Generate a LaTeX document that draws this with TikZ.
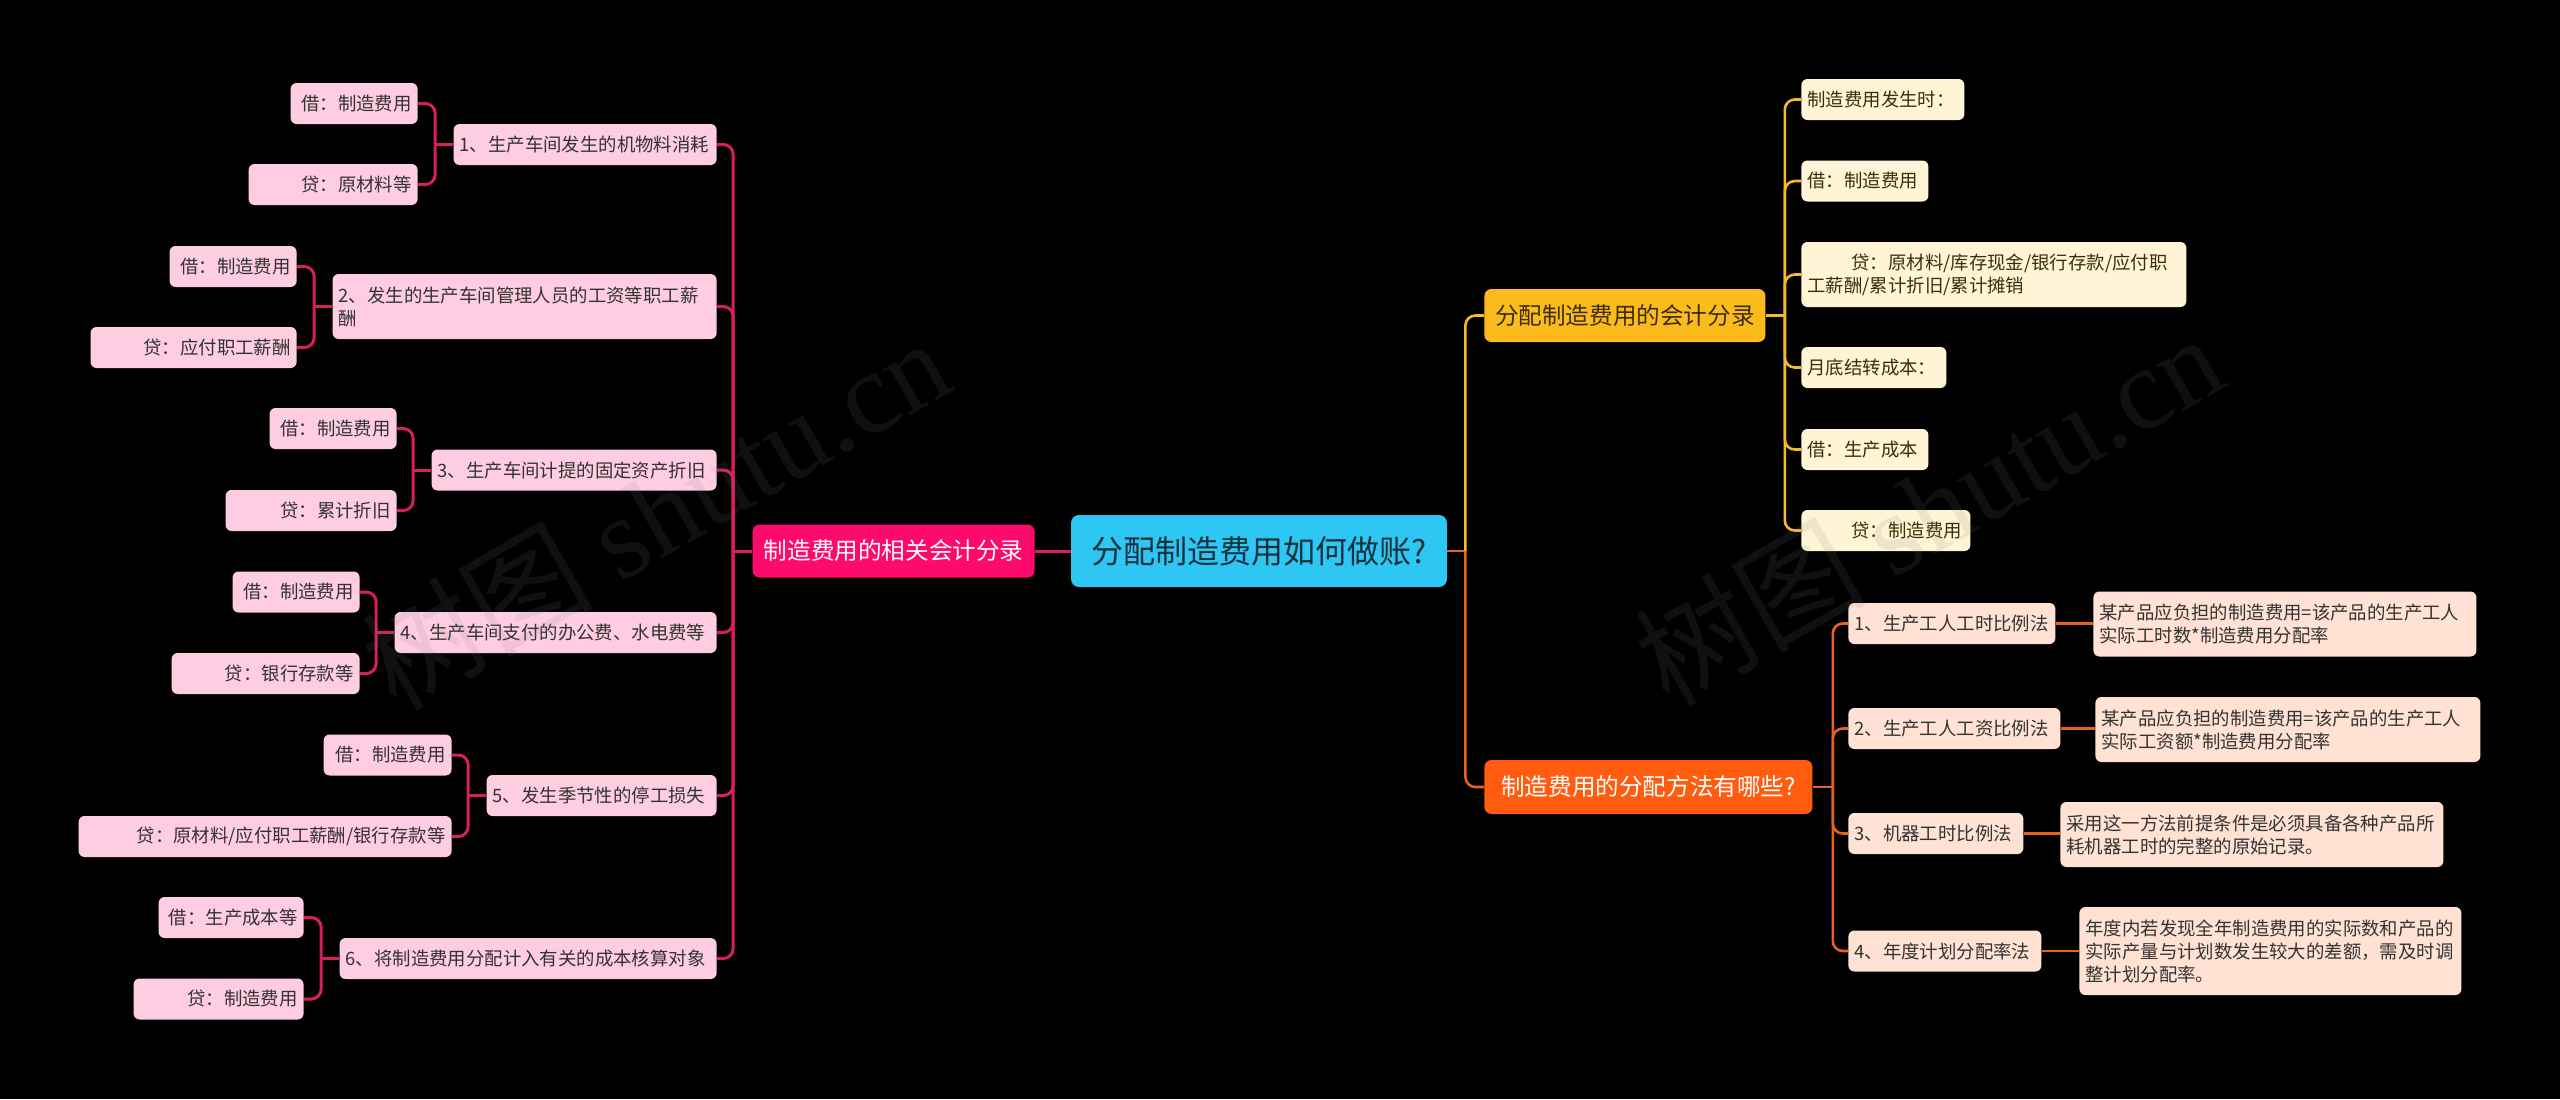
\documentclass[tikz,border=0pt]{standalone}
\usepackage{fontspec}
\setmainfont{Noto Sans CJK SC}
\newfontfamily\wmlatin{Liberation Serif}
\definecolor{pinkmain}{HTML}{FC0A6C}
\definecolor{pinkline}{HTML}{D81E62}
\definecolor{pinkleaf}{HTML}{FFCDE2}
\definecolor{cyanroot}{HTML}{2EC6F3}
\definecolor{roottext}{HTML}{17323F}
\definecolor{goldmain}{HTML}{FBBB1B}
\definecolor{goldline}{HTML}{F3BA2C}
\definecolor{goldleaf}{HTML}{FFF4D6}
\definecolor{orgmain}{HTML}{FF5C10}
\definecolor{orgline}{HTML}{E6631E}
\definecolor{orgleaf}{HTML}{FFE2D3}
\definecolor{leaftext}{HTML}{333333}
\definecolor{goldtext}{HTML}{3D2E06}
\begin{document}
\begin{tikzpicture}[x=0.5pt,y=-0.5pt,
 box/.style={rounded corners=3pt, inner xsep=3pt, inner ysep=0pt, minimum height=20.5pt, font=\fontsize{9.2}{11.5}\selectfont, text=leaftext},
 pleaf/.style={box, fill=pinkleaf, anchor=east, align=right},
 pitem/.style={box, fill=pinkleaf, anchor=east, align=left},
 gleaf/.style={box, fill=goldleaf, anchor=west, align=left, text=goldtext},
 oleaf/.style={box, fill=orgleaf, anchor=west, align=left},
 mainbox/.style={rounded corners=3.5pt, inner sep=0pt, minimum height=26.5pt, font=\fontsize{11.8}{14}\selectfont},
 rootbox/.style={rounded corners=4pt, inner sep=0pt, fill=cyanroot, text=roottext, minimum width=188pt, minimum height=36pt, font=\fontsize{16}{18}\selectfont},
 pline/.style={draw=pinkline, line width=1.5pt},
 gline/.style={draw=goldline, line width=1.3pt},
 oline/.style={draw=orgline, line width=1.3pt},
 rc/.style={rounded corners=5pt},
 wm/.style={text=gray, text opacity=0.13, font=\fontsize{58}{60}\selectfont, rotate=30}
]
\fill[black] (0,0) rectangle (2560,1099);
\useasboundingbox (0,0) rectangle (2560,1099);

% root and main branches
\node[rootbox] (root) at (1259,551) {分配制造费用如何做账?};
\node[mainbox, fill=pinkmain, text=white, minimum width=141pt, anchor=east] (L) at (1035,551) {制造费用的相关会计分录};
\node[mainbox, fill=goldmain, text=goldtext, minimum width=140.5pt, anchor=west] (RT) at (1484,315.5) {分配制造费用的会计分录};
\node[mainbox, fill=orgmain, text=white, minimum width=164pt, minimum height=27pt, anchor=west] (RB) at (1484,787) {制造费用的分配方法有哪些?};

% left items
\node[pitem, text width=125.5pt] (i1) at (717,144.5) {1、生产车间发生的机物料消耗};
\node[pitem, text width=186pt, minimum height=32.5pt] (i2) at (717,306.5) {2、发生的生产车间管理人员的工资等职工薪\\酬};
\node[pitem, text width=136.5pt] (i3) at (717,470) {3、生产车间计提的固定资产折旧};
\node[pitem, text width=155pt] (i4) at (717,632.5) {4、生产车间支付的办公费、水电费等};
\node[pitem, text width=109pt] (i5) at (717,795.5) {5、发生季节性的停工损失};
\node[pitem, text width=182.5pt] (i6) at (717,958.5) {6、将制造费用分配计入有关的成本核算对象};

% left leaves
\node[pleaf, text width=57.5pt] (l1a) at (418,103.5) {借：制造费用};
\node[pleaf, text width=78.5pt] (l1b) at (418,184.5) {贷：原材料等};
\node[pleaf, text width=57.5pt] (l2a) at (297,266.5) {借：制造费用};
\node[pleaf, text width=97pt] (l2b) at (297,347.5) {贷：应付职工薪酬};
\node[pleaf, text width=57.5pt] (l3a) at (397,428.5) {借：制造费用};
\node[pleaf, text width=79.5pt] (l3b) at (397,510.5) {贷：累计折旧};
\node[pleaf, text width=57.5pt] (l4a) at (360,592) {借：制造费用};
\node[pleaf, text width=88pt] (l4b) at (360,673.5) {贷：银行存款等};
\node[pleaf, text width=58pt] (l5a) at (452,755) {借：制造费用};
\node[pleaf, text width=180.5pt] (l5b) at (452,836.5) {贷：原材料/应付职工薪酬/银行存款等};
\node[pleaf, text width=66.5pt] (l6a) at (304,917.5) {借：生产成本等};
\node[pleaf, text width=79pt] (l6b) at (304,999) {贷：制造费用};

% right top leaves
\node[gleaf, text width=75.5pt] (r1) at (1801,99.5) {制造费用发生时：};
\node[gleaf, text width=57.5pt] (r2) at (1801,181) {借：制造费用};
\node[gleaf, text width=186.5pt, minimum height=32.5pt] (r3) at (1801,274.5) {\hspace*{22pt}贷：原材料/库存现金/银行存款/应付职\\工薪酬/累计折旧/累计摊销};
\node[gleaf, text width=66.5pt] (r4) at (1801,367.5) {月底结转成本：};
\node[gleaf, text width=57.5pt] (r5) at (1801,449.5) {借：生产成本};
\node[gleaf, text width=78.5pt] (r6) at (1801,530.5) {\hspace*{22pt}贷：制造费用};

% right bottom methods
\node[oleaf, text width=97.5pt] (m1) at (1848,623.5) {1、生产工人工时比例法};
\node[oleaf, text width=100pt] (m2) at (1848,728.5) {2、生产工人工资比例法};
\node[oleaf, text width=81.5pt] (m3) at (1848,833.5) {3、机器工时比例法};
\node[oleaf, text width=90.5pt] (m4) at (1848,951) {4、年度计划分配率法};
\node[oleaf, text width=185.5pt, minimum height=32.5pt] (d1) at (2093,624) {某产品应负担的制造费用=该产品的生产工人\\实际工时数*制造费用分配率};
\node[oleaf, text width=186.5pt, minimum height=32.5pt] (d2) at (2095,729.5) {某产品应负担的制造费用=该产品的生产工人\\实际工资额*制造费用分配率};
\node[oleaf, text width=185.5pt, minimum height=32.5pt] (d3) at (2060,834.5) {采用这一方法前提条件是必须具备各种产品所\\耗机器工时的完整的原始记录。};
\node[oleaf, text width=185pt, minimum height=44pt] (d4) at (2079,951) {年度内若发现全年制造费用的实际数和产品的\\实际产量与计划数发生较大的差额，需及时调\\整计划分配率。};

% connectors: left
\draw[pline] (root.west) -- (L.east);
\draw[pline] (L.west) -- ++(-19,0) coordinate (Lb);
\foreach \n in {i1,i2,i3,i4,i5,i6} \draw[pline, rc] (Lb) |- (\n.east);
\foreach \p/\a/\b in {i1/l1a/l1b, i2/l2a/l2b, i3/l3a/l3b, i4/l4a/l4b, i5/l5a/l5b, i6/l6a/l6b} {
  \draw[pline] (\p.west) -- ++(-18,0) coordinate (pb);
  \draw[pline, rc] (pb) |- (\a.east);
  \draw[pline, rc] (pb) |- (\b.east);
}

% connectors: right
\draw[oline] (root.east) -- ++(18,0) coordinate (Rb);
\draw[gline, rc] (Rb) |- (RT.west);
\draw[oline, rc] (Rb) |- (RB.west);
\draw[gline] (RT.east) -- ++(19,0) coordinate (RTb);
\foreach \n in {r1,r2,r3,r4,r5,r6} \draw[gline, rc] (RTb) |- (\n.west);
\draw[oline] (RB.east) -- ++(20,0) coordinate (RBb);
\foreach \n in {m1,m2,m3,m4} \draw[oline, rc] (RBb) |- (\n.west);
\foreach \m/\d in {m1/d1, m2/d2, m3/d3, m4/d4} \draw[oline] (\m.east) -- (\m.east -| \d.west);

% watermarks
\node[wm] (wm1) at (655,512) {树图 {\wmlatin shutu.cn}};
\node[wm] (wm2) at (1928,508) {树图 {\wmlatin shutu.cn}};
\end{tikzpicture}
\end{document}
